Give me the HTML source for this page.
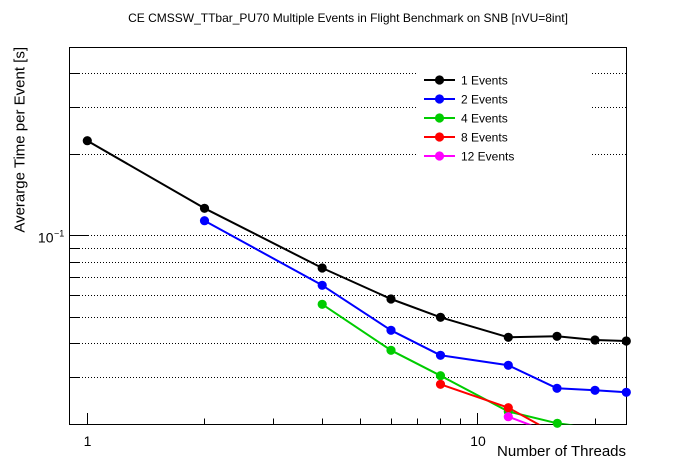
<!DOCTYPE html>
<html><head><meta charset="utf-8"><style>
html,body{margin:0;padding:0;background:#fff;}
svg{display:block;font-family:"Liberation Sans",Arial,sans-serif;}
</style></head><body>
<svg width="696" height="472" viewBox="0 0 696 472" xmlns="http://www.w3.org/2000/svg">
<defs><clipPath id="fr"><rect x="69.5" y="47.5" width="557" height="377"/></clipPath></defs>
<rect width="696" height="472" fill="#fff"/>
<text x="348" y="22" font-size="12" text-anchor="middle" fill="#000">CE CMSSW_TTbar_PU70 Multiple Events in Flight Benchmark on SNB [nVU=8int]</text>
<g stroke="#000" stroke-width="1" stroke-dasharray="1 2" fill="none">
<line x1="70" y1="73.5" x2="626" y2="73.5"/>
<line x1="70" y1="107.5" x2="626" y2="107.5"/>
<line x1="70" y1="154.5" x2="626" y2="154.5"/>
<line x1="70" y1="235.5" x2="626" y2="235.5"/>
<line x1="70" y1="248.5" x2="626" y2="248.5"/>
<line x1="70" y1="262.5" x2="626" y2="262.5"/>
<line x1="70" y1="277.5" x2="626" y2="277.5"/>
<line x1="70" y1="295.5" x2="626" y2="295.5"/>
<line x1="70" y1="317.5" x2="626" y2="317.5"/>
<line x1="70" y1="343.5" x2="626" y2="343.5"/>
<line x1="70" y1="377.5" x2="626" y2="377.5"/>
</g>
<rect x="416" y="64" width="174" height="104" fill="#fff"/>
<g stroke="#000" stroke-width="1" fill="none">
<rect x="69.5" y="47.5" width="557" height="377"/>
<line x1="69.5" y1="235.5" x2="88" y2="235.5"/>
<line x1="69.5" y1="73.5" x2="80" y2="73.5"/>
<line x1="69.5" y1="107.5" x2="80" y2="107.5"/>
<line x1="69.5" y1="154.5" x2="80" y2="154.5"/>
<line x1="69.5" y1="248.5" x2="80" y2="248.5"/>
<line x1="69.5" y1="262.5" x2="80" y2="262.5"/>
<line x1="69.5" y1="277.5" x2="80" y2="277.5"/>
<line x1="69.5" y1="295.5" x2="80" y2="295.5"/>
<line x1="69.5" y1="317.5" x2="80" y2="317.5"/>
<line x1="69.5" y1="343.5" x2="80" y2="343.5"/>
<line x1="69.5" y1="377.5" x2="80" y2="377.5"/>
<line x1="87.5" y1="424.5" x2="87.5" y2="413"/>
<line x1="477.5" y1="424.5" x2="477.5" y2="413"/>
<line x1="204.5" y1="424.5" x2="204.5" y2="418.5"/>
<line x1="273.5" y1="424.5" x2="273.5" y2="418.5"/>
<line x1="322.5" y1="424.5" x2="322.5" y2="418.5"/>
<line x1="360.5" y1="424.5" x2="360.5" y2="418.5"/>
<line x1="391.5" y1="424.5" x2="391.5" y2="418.5"/>
<line x1="417.5" y1="424.5" x2="417.5" y2="418.5"/>
<line x1="440.5" y1="424.5" x2="440.5" y2="418.5"/>
<line x1="460.5" y1="424.5" x2="460.5" y2="418.5"/>
<line x1="595.5" y1="424.5" x2="595.5" y2="418.5"/>
</g>
<text x="87.5" y="446" font-size="14" text-anchor="middle">1</text>
<text x="478" y="446" font-size="14" text-anchor="middle">10</text>
<text x="53.5" y="242.7" font-size="14" text-anchor="end">10</text>
<text x="54" y="236.5" font-size="9">−1</text>
<text x="626" y="456" font-size="15" text-anchor="end">Number of Threads</text>
<text transform="translate(24.5,47) rotate(-90)" font-size="15" text-anchor="end">Averarge Time per Event [s]</text>
<g clip-path="url(#fr)" fill="none" stroke-width="2" stroke-linejoin="round">
<polyline stroke="#000" points="87.3,140.7 204.5,208.3 322.2,268 391,299 440.5,317.3 508.3,337.3 557,336.3 595,340 626.3,341"/>
<polyline stroke="#0000ff" points="204.5,220.7 322.2,285.3 391,330.3 440.5,355.3 508.3,365.3 557,388.3 595,390.3 626.3,392.3"/>
<polyline stroke="#00cc00" points="322.2,304.3 391,350.3 440.5,375.7 508.3,411.5 557.3,423.3 595,428.3"/>
<polyline stroke="#ff0000" points="440.5,384.3 508.3,407.7 557,434.6"/>
<polyline stroke="#ff00ff" points="508.3,416.7 557,434.9"/>
</g>
<g fill="#000">
<circle cx="87.3" cy="140.7" r="4.6"/><circle cx="204.5" cy="208.3" r="4.6"/><circle cx="322.2" cy="268" r="4.6"/><circle cx="391" cy="299" r="4.6"/><circle cx="440.5" cy="317.3" r="4.6"/><circle cx="508.3" cy="337.3" r="4.6"/><circle cx="557" cy="336.3" r="4.6"/><circle cx="595" cy="340" r="4.6"/><circle cx="626.3" cy="341" r="4.6"/>
</g>
<g fill="#0000ff">
<circle cx="204.5" cy="220.7" r="4.6"/><circle cx="322.2" cy="285.3" r="4.6"/><circle cx="391" cy="330.3" r="4.6"/><circle cx="440.5" cy="355.3" r="4.6"/><circle cx="508.3" cy="365.3" r="4.6"/><circle cx="557" cy="388.3" r="4.6"/><circle cx="595" cy="390.3" r="4.6"/><circle cx="626.3" cy="392.3" r="4.6"/>
</g>
<g fill="#00cc00">
<circle cx="322.2" cy="304.3" r="4.6"/><circle cx="391" cy="350.3" r="4.6"/><circle cx="440.5" cy="375.7" r="4.6"/><circle cx="508.3" cy="411.5" r="4.6"/><circle cx="557.3" cy="423.3" r="4.6"/>
</g>
<g fill="#ff0000">
<circle cx="440.5" cy="384.3" r="4.6"/><circle cx="508.3" cy="407.7" r="4.6"/>
</g>
<g fill="#ff00ff">
<circle cx="508.3" cy="416.7" r="4.6"/>
</g>
<g stroke-width="2">
<line x1="424" y1="80" x2="455" y2="80" stroke="#000"/><circle cx="439.5" cy="80" r="4.6" fill="#000"/>
<line x1="424" y1="99" x2="455" y2="99" stroke="#0000ff"/><circle cx="439.5" cy="99" r="4.6" fill="#0000ff"/>
<line x1="424" y1="118" x2="455" y2="118" stroke="#00cc00"/><circle cx="439.5" cy="118" r="4.6" fill="#00cc00"/>
<line x1="424" y1="137" x2="455" y2="137" stroke="#ff0000"/><circle cx="439.5" cy="137" r="4.6" fill="#ff0000"/>
<line x1="424" y1="156" x2="455" y2="156" stroke="#ff00ff"/><circle cx="439.5" cy="156" r="4.6" fill="#ff00ff"/>
</g>
<g font-size="12" fill="#000">
<text x="461" y="84.3">1 Events</text>
<text x="461" y="103.3">2 Events</text>
<text x="461" y="122.3">4 Events</text>
<text x="461" y="141.3">8 Events</text>
<text x="461" y="160.3">12 Events</text>
</g>
</svg>
</body></html>
